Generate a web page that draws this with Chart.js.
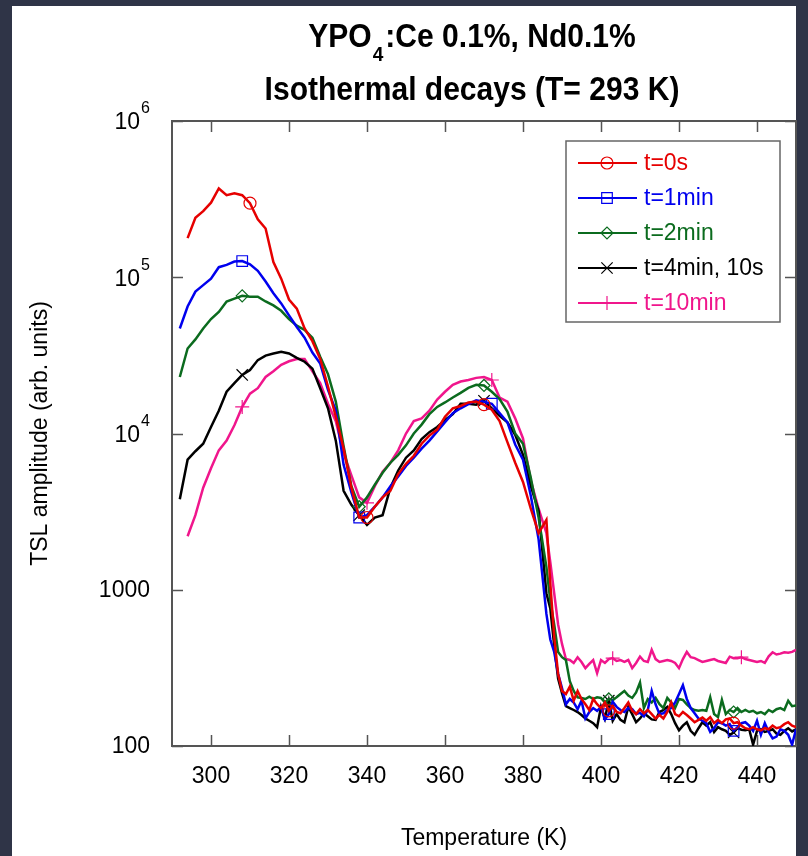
<!DOCTYPE html>
<html>
<head>
<meta charset="utf-8">
<script src="https://cdn.jsdelivr.net/npm/chart.js@4.4.1/dist/chart.umd.min.js"></script>
<style>
  html, body { margin: 0; padding: 0; background: #2f3447; }
  #wrap { width: 808px; height: 856px; }
</style>
</head>
<body>
<div id="wrap"><canvas id="tslChart" width="808" height="856"></canvas></div>
<script>
// temperature grid (K): 2 K steps up to 386, then 1 K steps in the noisy tail
const temps = [
  292, 294, 296, 298, 300, 302, 304, 306, 308, 310,
  312, 314, 316, 318, 320, 322, 324, 326, 328, 330,
  332, 334, 336, 338, 340, 342, 344, 346, 348, 350,
  352, 354, 356, 358, 360, 362, 364, 366, 368, 370,
  372, 374, 376, 378, 380, 382, 384, 386, 387, 388,
  389, 390, 391, 392, 393, 394, 395, 396, 397, 398,
  399, 400, 401, 402, 403, 404, 405, 406, 407, 408,
  409, 410, 411, 412, 413, 414, 415, 416, 417, 418,
  419, 420, 421, 422, 423, 424, 425, 426, 427, 428,
  429, 430, 431, 432, 433, 434, 435, 436, 437, 438,
  439, 440, 441, 442, 443, 444, 445, 446, 447, 448,
  449, 450
];

const tsl0s = [
  null, 178000, 240000, 265000, 300000, 370000, 335000, 345000, 335000, 298000,
  235000, 205000, 125000, 98000, 72000, 63000, 47000, 39000, 30000, 20000,
  12800, 8000, 4500, 2900, 2900, 3400, 3900, 4300, 5500, 6400,
  7200, 8600, 9700, 10600, 12800, 14500, 15000, 15800, 16000, 15300,
  14200, 12000, 8800, 6500, 4900, 3300, 2300, 2800, 1100, 500,
  290, 225, 215, 240, 195, 225, 200, 185, 170, 200,
  185, 175, 190, 168, 180, 165, 162, 175, 190, 168,
  160, 172, 162, 170, 160, 150, 158, 150, 165, 190,
  160, 155, 165, 158, 150, 142, 147, 152, 145, 153,
  140, 147, 140, 148, 150, 140, 142, 135, 130, 128,
  132, 128, 126, 130, 128, 135, 130, 132, 138, 142,
  135, 132
];

const tsl1min = [
  47000, 65000, 81000, 89000, 98000, 116000, 120000, 126000, 127000, 121000,
  110000, 94000, 79000, 68000, 57000, 48000, 41000, 33000, 28000, 19000,
  14000, 6300, 4200, 2900, 3000, 3400, 3900, 4600, 5300, 6200,
  7000, 8000, 9000, 10300, 11800, 13500, 14500, 15400, 16300, 16000,
  15500, 13500, 11800, 8500, 6800, 4000, 2100, 700, 480, 400,
  290, 235, 185, 200, 190, 172, 195, 150, 165, 175,
  168, 178, 148, 160, 192, 178, 170, 165, 175, 172,
  160, 163, 155, 170, 225, 185, 160, 162, 170, 175,
  190, 215, 245, 200, 175, 162, 150, 145, 140, 123,
  130, 142, 140, 135, 138, 125, 132, 140, 142, 135,
  125, 145, 118, 140, 123, 112, 115, 128, 125, 118,
  102, 128
];

const tsl2min = [
  23000, 35000, 40000, 47000, 54000, 60000, 70000, 73000, 76000, 75000,
  75000, 70000, 66000, 61000, 54000, 49000, 46000, 41000, 31000, 24000,
  16000, 8300, 4600, 3400, 3900, 4700, 5600, 6500, 7300, 8400,
  10000, 11400, 13300, 14800, 15800, 17000, 18200, 19600, 20500, 20300,
  18500, 16600, 13800, 10000, 8600, 5200, 2900, 1400, 850, 600,
  400, 370, 355, 260, 225, 205, 203, 200, 207, 200,
  205, 203, 190, 200, 197, 205, 215, 225, 210, 203,
  220, 255, 175, 200, 190, 203, 185, 175, 203, 190,
  175, 200, 197, 185, 175, 170, 168, 170, 168, 205,
  160, 153, 197, 160, 170, 165, 175, 165, 170, 165,
  168, 162, 165, 160, 170, 165, 172, 175, 170, 195,
  180, 182
];

const tsl4min = [
  3800, 6800, 7700, 8600, 11000, 14000, 18500, 21000, 23700, 25500,
  29500, 31500, 32500, 33400, 32500, 30500, 28800, 26000, 19500, 14500,
  9000, 4300, 3500, 3000, 2600, 2900, 3000, 4500, 5800, 7000,
  7800, 9200, 10200, 11000, 12200, 13300, 15500, 15500, 15300, 16200,
  14500, 13000, 11800, 9800, 7300, 4600, 3200, 950, 760, 440,
  270, 218, 180, 175, 170, 165, 158, 150, 145, 140,
  132, 178, 150, 195, 145, 160, 147, 142, 178, 160,
  142, 150, 162, 155, 148, 147, 165, 170, 178, 160,
  140, 126, 135, 142, 125, 118, 130, 142, 135, 142,
  123, 132, 128, 125, 118, 122, 130, 127, 126, 128,
  102, 125, 128, 123, 125, 128, 120, 118, 125, 130,
  124, 128
];

const tsl10min = [
  null, 2200, 3000, 4500, 6000, 7800, 9000, 11300, 14800, 18000,
  19500, 23000, 25000, 27500, 29000, 30000, 30000, 25000, 21000, 15500,
  12000, 7500, 5400, 3900, 3600, 4600, 5700, 6500, 7800, 10000,
  12000, 12500, 14000, 16500, 18500, 20500, 21500, 22000, 22700, 23000,
  22000, 17000, 16000, 12500, 9300, 5000, 3300, 2300, 1500, 950,
  600, 450, 360, 355, 340, 370, 345, 315, 335, 355,
  293, 355, 340, 360, 365, 350, 355, 345, 355, 315,
  340, 373, 350, 345, 413, 360, 345, 350, 355, 350,
  340, 315, 360, 400, 370, 365, 355, 345, 350, 355,
  360, 350, 345, 340, 373, 365, 365, 370, 360, 355,
  350, 345, 350, 340, 375, 398, 385, 390, 398, 395,
  400, 413
];

// temperatures where each curve carries a marker symbol
const marks0s = [310, 340, 370, 402, 434];
const marks1min = [308, 338, 372, 402, 434];
const marks2min = [308, 338, 370, 402, 434];
const marks4min = [308, 338, 370, 402, 434];
const marks10min = [308, 340, 372, 403, 436];

const seriesLabels = ['t=0s', 't=1min', 't=2min', 't=4min, 10s', 't=10min'];
const xTicks = [300, 320, 340, 360, 380, 400, 420, 440];
const yTicks = [100, 1000, 10000, 100000, 1000000];
// [mantissa, exponent] for the y tick labels ('' = plain number)
const yTickLabels = [['100', ''], ['1000', ''], ['10', '4'], ['10', '5'], ['10', '6']];

const titleMain = 'YPO';
const titleSub = '4';
const titleRest = ':Ce 0.1%, Nd0.1%';
const titleLine2 = 'Isothermal decays (T= 293 K)';

const family = '"Liberation Sans", Arial, Helvetica, sans-serif';

function makeSet(label, values, marks, color, style, radius) {
  return {
    label: label,
    data: temps.map((t, i) => ({ x: t, y: values[i] })),
    borderColor: color,
    backgroundColor: 'rgba(0,0,0,0)',
    borderWidth: 2.5,
    tension: 0,
    pointStyle: style,
    pointBorderWidth: 1.2,
    pointBorderColor: color,
    pointBackgroundColor: 'rgba(0,0,0,0)',
    pointRadius: ctx => marks.includes(temps[ctx.dataIndex]) ? radius : 0,
    pointHoverRadius: 0,
    legendRadius: radius
  };
}

const backdrop = {
  id: 'backdrop',
  beforeDraw(chart) {
    const ctx = chart.ctx;
    ctx.save();
    ctx.fillStyle = '#2f3447';
    ctx.fillRect(0, 0, chart.width, chart.height);
    ctx.fillStyle = '#ffffff';
    ctx.fillRect(12, 6, 784, 850);
    ctx.restore();
  }
};

// box around the plot with inward ticks on all four sides, plus the y labels with exponents
const frame = {
  id: 'frame',
  beforeDatasetsDraw(chart) {
    const { ctx, chartArea: a, scales: { x, y } } = chart;
    ctx.save();
    ctx.strokeStyle = '#555555';
    ctx.lineWidth = 2;
    ctx.strokeRect(a.left, a.top, a.right - a.left, a.bottom - a.top);
    ctx.lineWidth = 1.5;
    ctx.beginPath();
    xTicks.forEach(v => {
      const px = Math.round(x.getPixelForValue(v)) + 0.5;
      ctx.moveTo(px, a.bottom); ctx.lineTo(px, a.bottom - 11);
      ctx.moveTo(px, a.top); ctx.lineTo(px, a.top + 11);
    });
    yTicks.forEach(v => {
      const py = Math.round(y.getPixelForValue(v)) + 0.5;
      ctx.moveTo(a.left, py); ctx.lineTo(a.left + 11, py);
      ctx.moveTo(a.right, py); ctx.lineTo(a.right - 11, py);
    });
    ctx.stroke();

    ctx.fillStyle = '#000000';
    ctx.textBaseline = 'middle';
    yTicks.forEach((v, i) => {
      const py = y.getPixelForValue(v);
      const [m, e] = yTickLabels[i];
      const xr = a.left - 22;
      if (!e) {
        ctx.font = '23px ' + family;
        ctx.textAlign = 'right';
        ctx.fillText(m, xr, py + 1);
      } else {
        ctx.font = '16px ' + family;
        ctx.textAlign = 'right';
        ctx.fillText(e, xr, py - 12);
        const we = ctx.measureText(e).width;
        ctx.font = '23px ' + family;
        ctx.fillText(m, xr - we - 1, py + 2);
      }
    });
    ctx.restore();
  }
};

const boxLegend = {
  id: 'boxLegend',
  afterDatasetsDraw(chart) {
    const { ctx, chartArea: a } = chart;
    const left = a.right - 230, top = a.top + 20, w = 214, h = 181;
    ctx.save();
    ctx.fillStyle = '#ffffff';
    ctx.fillRect(left, top, w, h);
    ctx.strokeStyle = '#666666';
    ctx.lineWidth = 1.5;
    ctx.strokeRect(left, top, w, h);
    ctx.font = '23px ' + family;
    ctx.textBaseline = 'middle';
    ctx.textAlign = 'left';
    chart.data.datasets.forEach((ds, i) => {
      const yy = top + 22 + i * 35;
      ctx.strokeStyle = ds.borderColor;
      ctx.lineWidth = 2;
      ctx.beginPath();
      ctx.moveTo(left + 12, yy);
      ctx.lineTo(left + 71, yy);
      ctx.stroke();
      ctx.lineWidth = 1.2;
      ctx.fillStyle = 'rgba(0,0,0,0)';
      Chart.helpers.drawPoint(ctx, {
        pointStyle: ds.pointStyle, radius: ds.legendRadius, rotation: 0, borderWidth: 1.2
      }, left + 41, yy);
      ctx.fillStyle = ds.borderColor;
      ctx.fillText(ds.label, left + 78, yy + 1);
    });
    ctx.restore();
  }
};

// title with a real subscript, slightly condensed like the original
const titles = {
  id: 'titles',
  afterDraw(chart) {
    const { ctx, chartArea: a } = chart;
    const cx = (a.left + a.right) / 2 - 12;
    const sx = 0.91;
    const big = 'bold 33px ' + family;
    const small = 'bold 21px ' + family;
    const put = (text, x, y) => {
      ctx.save();
      ctx.translate(x, y);
      ctx.scale(sx, 1);
      ctx.fillText(text, 0, 0);
      ctx.restore();
    };
    ctx.save();
    ctx.fillStyle = '#000000';
    ctx.textBaseline = 'alphabetic';
    ctx.textAlign = 'left';
    ctx.font = big;
    const wMain = ctx.measureText(titleMain).width * sx;
    const wRest = ctx.measureText(titleRest).width * sx;
    const w2 = ctx.measureText(titleLine2).width * sx;
    ctx.font = small;
    const wSub = ctx.measureText(titleSub).width * sx + 3;
    const x0 = cx - (wMain + wSub + wRest) / 2;
    ctx.font = big;
    put(titleMain, x0, 47);
    ctx.font = small;
    put(titleSub, x0 + wMain + 1, 61);
    ctx.font = big;
    put(titleRest, x0 + wMain + wSub, 47);
    put(titleLine2, cx - w2 / 2, 100);
    ctx.restore();
  }
};

Chart.defaults.font.family = family;

new Chart(document.getElementById('tslChart').getContext('2d'), {
  type: 'line',
  data: {
    datasets: [
      makeSet(seriesLabels[0], tsl0s, marks0s, '#e60000', 'circle', 6),
      makeSet(seriesLabels[1], tsl1min, marks1min, '#0000ee', 'rect', 7.5),
      makeSet(seriesLabels[2], tsl2min, marks2min, '#0b6b1e', 'rectRot', 6),
      makeSet(seriesLabels[3], tsl4min, marks4min, '#000000', 'crossRot', 8),
      makeSet(seriesLabels[4], tsl10min, marks10min, '#f0168c', 'cross', 7)
    ]
  },
  options: {
    responsive: false,
    animation: false,
    devicePixelRatio: 1,
    events: [],
    layout: { padding: { left: 12, right: 12, top: 121, bottom: 0 } },
    plugins: {
      legend: { display: false },
      title: { display: false },
      tooltip: { enabled: false }
    },
    scales: {
      x: {
        type: 'linear',
        min: 290,
        max: 450,
        afterBuildTicks: s => { s.ticks = xTicks.map(v => ({ value: v })); },
        afterFit: s => { s.height = 110; },
        grid: { display: false, drawTicks: false },
        border: { display: false },
        ticks: {
          color: '#000', padding: 17, maxRotation: 0, autoSkip: false,
          font: { size: 23 },
          callback: v => String(v)
        },
        title: {
          display: true, text: 'Temperature (K)', color: '#000',
          font: { size: 23 }, padding: { top: 0, bottom: 4 }
        }
      },
      y: {
        type: 'logarithmic',
        min: 100,
        max: 1000000,
        afterBuildTicks: s => { s.ticks = yTicks.map(v => ({ value: v })); },
        afterFit: s => { s.width = 160; },
        grid: { display: false, drawTicks: false },
        border: { display: false },
        ticks: { display: false },
        title: {
          display: true, text: 'TSL amplitude (arb. units)', color: '#000',
          font: { size: 23 }, padding: { top: 15, bottom: 0 }
        }
      }
    }
  },
  plugins: [backdrop, frame, boxLegend, titles]
});
</script>
</body>
</html>
